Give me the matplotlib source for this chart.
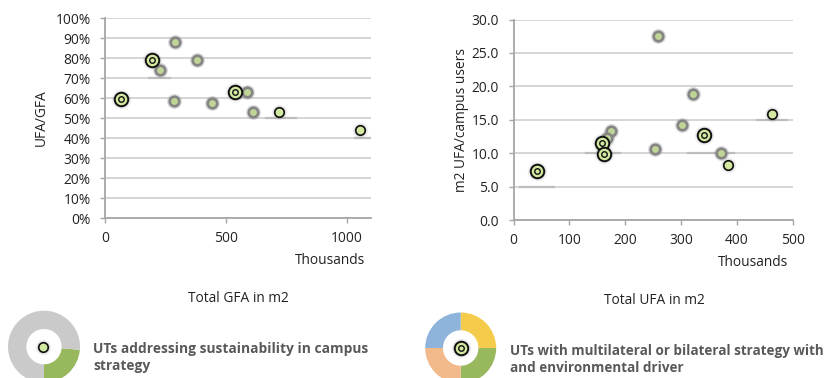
import matplotlib
matplotlib.use('Agg')
import matplotlib.pyplot as plt

plt.rcParams['font.family'] = ['Open Sans', 'DejaVu Sans']

W, H = 830, 378

# left chart: total GFA (thousands) vs UFA/GFA (%)
gfa_grey_x = [289, 381, 229, 284, 441, 587, 613]
gfa_grey_y = [87.9, 79.1, 74.1, 58.5, 57.4, 63, 53.2]
gfa_single_x = [720, 1056]
gfa_single_y = [53, 44]
gfa_double_x = [194, 65, 536]
gfa_double_y = [79, 59.5, 63.2]
gfa_xticks = [0, 500, 1000]
gfa_yticks = list(range(0, 101, 10))
gfa_ylabels = [f'{v}%' for v in gfa_yticks]
gfa_dark_grid = [(70, 180, 270), (50, 665, 790), (40, 1035, 1100)]

# right chart: total UFA (thousands) vs m2 UFA per campus user
ufa_grey_x = [259, 322, 302, 253, 371, 174, 167]
ufa_grey_y = [27.5, 18.9, 14.25, 10.6, 10.06, 13.35, 12.2]
ufa_single_x = [462, 383]
ufa_single_y = [15.9, 8.2]
ufa_double_x = [42, 158, 162, 340]
ufa_double_y = [7.3, 11.5, 9.9, 12.65]
ufa_xticks = [0, 100, 200, 300, 400, 500]
ufa_yticks = [0, 5, 10, 15, 20, 25, 30]
ufa_ylabels = [f'{v:.1f}' for v in ufa_yticks]
ufa_dark_grid = [(5, 12, 72), (10, 312, 395), (15, 435, 490), (10, 130, 190)]

# legend donuts (shares, colours clockwise from the start angle)
donut_left_shares = [85, 275]
donut_left_colors = ['#97b85c', '#cbcaca']
donut_right_shares = [1, 1, 1, 1]
donut_right_colors = ['#f5cb4b', '#97b85c', '#f2b98a', '#8fb4dc']

FILL = '#d3e8a0'


def px_axes(x0, y0, x1, y1):
    # pixel box, y measured from the top of the picture
    return fig.add_axes([x0 / W, 1 - y1 / H, (x1 - x0) / W, (y1 - y0) / H])


def fig_text(x, y, s, **kwargs):
    fig.text(x / W, 1 - y / H, s, color=kwargs.pop('color', '#222222'), **kwargs)


def size(d):
    # marker area from a diameter in pixels
    return (d * 0.72) ** 2


def shadow(ax, x, y, d):
    for grow, alpha in [(6, 0.05), (4, 0.08), (2, 0.12)]:
        ax.scatter(x, y, s=size(d + grow), color='#555555', alpha=alpha,
                   linewidths=0, clip_on=False, zorder=3)


def draw_grey(ax, x, y):
    ax.scatter(x, y, s=size(15), color='#8a8a8a', alpha=0.3, linewidths=0, clip_on=False, zorder=3)
    ax.scatter(x, y, s=size(9.5), facecolor='#bfd596', edgecolor='#858585',
               linewidths=1.9, clip_on=False, zorder=4)


def draw_single(ax, x, y):
    shadow(ax, x, y, 10)
    ax.scatter(x, y, s=size(9.5), facecolor=FILL, edgecolor='#111111',
               linewidths=1.2, clip_on=False, zorder=5)


def draw_double(ax, x, y):
    shadow(ax, x, y, 14)
    ax.scatter(x, y, s=size(13.5), facecolor=FILL, edgecolor='#111111',
               linewidths=1.4, clip_on=False, zorder=5)
    ax.scatter(x, y, s=size(5.5), facecolor=FILL, edgecolor='#111111',
               linewidths=1.0, clip_on=False, zorder=6)


def scatter_panel(box, xlim, ylim, xticks, yticks, ylabels, ylabel, label_x, dark_grid,
                  grey, single, double):
    ax = px_axes(*box)
    ax.set_xlim(*xlim)
    ax.set_ylim(*ylim)
    ax.set_xticks(xticks)
    ax.set_yticks(yticks)
    ax.set_yticklabels(ylabels)
    ax.grid(axis='y', color='#cacaca', lw=1.1)
    ax.set_axisbelow(True)
    for name in ['top', 'right']:
        ax.spines[name].set_visible(False)
    for name in ['left', 'bottom']:
        ax.spines[name].set_color('#a6a6a6')
        ax.spines[name].set_linewidth(1.3)
    ax.tick_params(colors='#a6a6a6', labelcolor='#222222', labelsize=9.9,
                   length=3.5, width=1)
    ax.tick_params(axis='x', pad=6)
    ax.tick_params(axis='y', pad=7)
    ax.set_ylabel(ylabel, fontsize=9.9, color='#222222')
    # label position given in pixels left of the axis
    ax.yaxis.set_label_coords(label_x / (box[2] - box[0]), 0.5)
    for y, a, b in dark_grid:
        ax.plot([a, b], [y, y], color='#bdbdbd', lw=1.6, zorder=1)
    draw_grey(ax, *grey)
    draw_single(ax, *single)
    draw_double(ax, *double)
    return ax


def donut(cx, cy, r, hole, shares, colors, start):
    ax = px_axes(cx - r, cy - r, cx + r, cy + r)
    ax.pie(shares, colors=colors, startangle=start, counterclock=False,
           radius=1.0, wedgeprops={'width': 1 - hole, 'linewidth': 0})
    ax.set_xlim(-1, 1)
    ax.set_ylim(-1, 1)
    ax.set_aspect('equal')
    ax.axis('off')
    return ax


fig = plt.figure(figsize=(W / 100, H / 100), dpi=100)

scatter_panel((105, 18, 371, 218), (0, 1100), (0, 100), gfa_xticks, gfa_yticks,
              gfa_ylabels, 'UFA/GFA', -56, gfa_dark_grid,
              (gfa_grey_x, gfa_grey_y), (gfa_single_x, gfa_single_y),
              (gfa_double_x, gfa_double_y))
scatter_panel((513.5, 19.5, 793, 220), (0, 500), (0, 30), ufa_xticks, ufa_yticks,
              ufa_ylabels, 'm2 UFA/campus users', -45, ufa_dark_grid,
              (ufa_grey_x, ufa_grey_y), (ufa_single_x, ufa_single_y),
              (ufa_double_x, ufa_double_y))

fig_text(365, 261, 'Thousands', fontsize=9.9, ha='right', va='center')
fig_text(788, 263, 'Thousands', fontsize=9.9, ha='right', va='center')
fig_text(238, 299, 'Total GFA in m2', fontsize=9.9, ha='center', va='center')
fig_text(654, 301, 'Total UFA in m2', fontsize=9.9, ha='center', va='center')

ax_d = donut(44, 346.7, 36, 0.49, donut_left_shares, donut_left_colors, -5)
draw_single(ax_d, [-0.02], [0.0])
ax_d = donut(460.7, 348, 35.5, 0.5, donut_right_shares, donut_right_colors, 90)
draw_double(ax_d, [0.0], [0.0])

fig_text(93, 349, 'UTs addressing sustainability in campus', fontsize=9.9, fontweight='bold',
         color='#595959', va='center')
fig_text(93, 366, 'strategy', fontsize=9.9, fontweight='bold', color='#595959', va='center')
fig_text(510, 351, 'UTs with multilateral or bilateral strategy with', fontsize=9.75,
         fontweight='bold', color='#595959', va='center')
fig_text(510, 368, 'and environmental driver', fontsize=9.75, fontweight='bold',
         color='#595959', va='center')

fig.savefig('out.png', dpi=100)
